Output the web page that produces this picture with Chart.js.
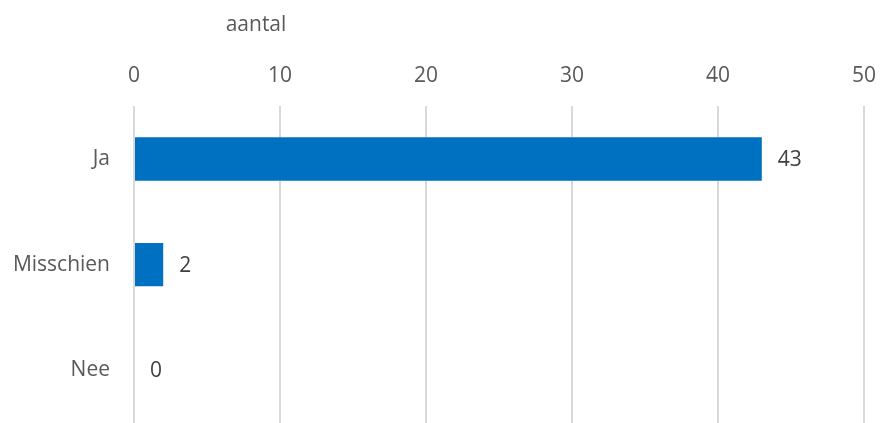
<!DOCTYPE html>
<html>
<head>
<meta charset="utf-8">
<script src="https://cdn.jsdelivr.net/npm/chart.js@4/dist/chart.umd.min.js"></script>
<style>
  html, body { margin: 0; padding: 0; background: #fff; }
  #wrap { width: 881px; height: 423px; }
</style>
</head>
<body>
<div id="wrap"><canvas id="barChart"></canvas></div>
<script>
const categories = ['Ja', 'Misschien', 'Nee'];
const aantalValues = [43, 2, 0];
const axisTitle = 'aantal';

const fontFamily = "'Open Sans', 'Noto Sans', sans-serif";
const fontSize = 21;

// value labels right of each bar
const valueLabels = {
    id: 'valueLabels',
    afterDatasetsDraw(chart) {
        const ctx = chart.ctx;
        const meta = chart.getDatasetMeta(0);
        ctx.save();
        ctx.font = fontSize + 'px ' + fontFamily;
        ctx.fillStyle = '#404040';
        ctx.textAlign = 'left';
        ctx.textBaseline = 'middle';
        meta.data.forEach((bar, i) => {
            ctx.fillText(String(chart.data.datasets[0].data[i]), bar.x + 16, bar.y + 1);
        });
        ctx.restore();
    }
};

// axis title sits left of centre, above the tick labels
const topTitle = {
    id: 'topTitle',
    afterDraw(chart) {
        const ctx = chart.ctx;
        ctx.save();
        ctx.font = fontSize + 'px ' + fontFamily;
        ctx.fillStyle = '#595959';
        ctx.textAlign = 'center';
        ctx.textBaseline = 'middle';
        ctx.fillText(axisTitle, 256, 25);
        ctx.restore();
    }
};

new Chart(document.getElementById('barChart').getContext('2d'), {
    type: 'bar',
    data: {
        labels: categories,
        datasets: [{
            label: axisTitle,
            data: aantalValues,
            backgroundColor: '#0070C0',
            borderWidth: 0,
            barPercentage: 0.41,
            categoryPercentage: 1.0,
        }]
    },
    options: {
        indexAxis: 'y',
        responsive: true,
        maintainAspectRatio: false,
        animation: false,
        layout: { padding: { top: 45, right: 17, bottom: 0, left: 0 } },
        plugins: {
            legend: { display: false },
            title: { display: false },
            tooltip: { enabled: false },
        },
        scales: {
            x: {
                position: 'top',
                min: 0,
                max: 50,
                ticks: {
                    stepSize: 10,
                    padding: 18,
                    color: '#595959',
                    font: { family: fontFamily, size: fontSize },
                },
                grid: { color: '#d9d9d9', lineWidth: 2, drawTicks: false },
                border: { display: false },
                afterFit(scale) { scale.paddingLeft = 0; scale.paddingRight = 0; },
            },
            y: {
                ticks: {
                    padding: 0,
                    color: '#595959',
                    font: { family: fontFamily, size: fontSize },
                },
                grid: { display: false, drawTicks: true, tickLength: 24 },
                border: { display: false },
                afterFit(scale) {
                    scale.width = 134;
                    scale.paddingTop = 0;
                    scale.paddingBottom = 0;
                },
            },
        },
    },
    plugins: [valueLabels, topTitle],
});
</script>
</body>
</html>
